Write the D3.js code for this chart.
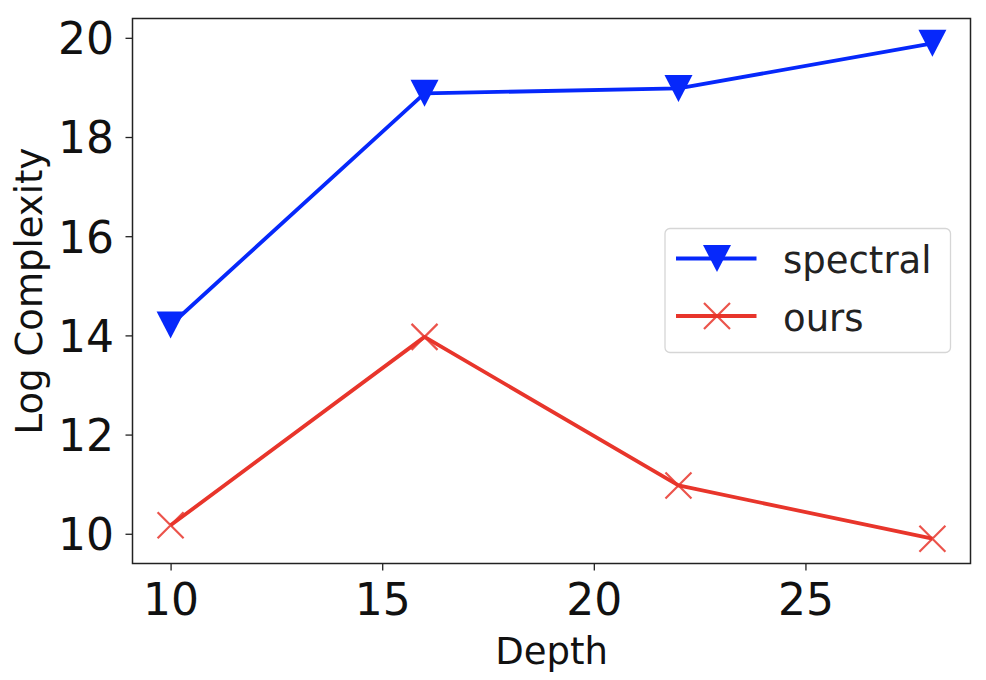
<!DOCTYPE html>
<html>
<head>
<meta charset="utf-8">
<script src="https://cdn.jsdelivr.net/npm/d3@7"></script>
<style>
  body { margin: 0; background: #fff; }
  svg { display: block; font-family: "DejaVu Sans", sans-serif; }
</style>
</head>
<body>
<svg id="chart" width="986" height="680"></svg>
<script>
// data
var depth = [10, 16, 22, 28]
var spectral = [14.21, 18.88, 18.98, 19.89]
var ours = [10.17, 13.97, 10.975, 9.9]
var xTicks = [10, 15, 20, 25]
var yTicks = [10, 12, 14, 16, 18, 20]
var seriesNames = ["spectral", "ours"]

var blue = "#0628fb"
var red = "#e8352b"

var margin = { left: 132.5, right: 15.5, top: 18.5, bottom: 116.5 }
var width = 986
var height = 680
var w = width - margin.left - margin.right
var h = height - margin.top - margin.bottom

var svg = d3.select("#chart")
var g = svg.append("g")
    .attr("transform", "translate(" + margin.left + "," + margin.top + ")")

// matplotlib style 5% margins
function pad(ext) {
    var r = ext[1] - ext[0]
    return [ext[0] - 0.05 * r, ext[1] + 0.05 * r]
}

var x = d3.scaleLinear()
    .domain(pad(d3.extent(depth)))
    .range([0, w])

var allY = spectral.concat(ours)
var y = d3.scaleLinear()
    .domain(pad(d3.extent(allY)))
    .range([h, 0])

var xAxis = g.append("g")
    .attr("transform", "translate(0," + h + ")")
    .call(d3.axisBottom(x).tickValues(xTicks).tickSize(7).tickFormat(d3.format("d")))
xAxis.select(".domain").remove()
xAxis.selectAll("line").attr("stroke", "#222").attr("stroke-width", 1.3)
xAxis.selectAll("text")
    .attr("dy", null)
    .attr("y", 51.5)
    .attr("fill", "#111")
    .style("font-size", "44px")
    .style("font-family", "DejaVu Sans")

var yAxis = g.append("g")
    .call(d3.axisLeft(y).tickValues(yTicks).tickSize(7).tickFormat(d3.format("d")))
yAxis.select(".domain").remove()
yAxis.selectAll("line").attr("stroke", "#222").attr("stroke-width", 1.3)
yAxis.selectAll("text")
    .attr("x", -18.5)
    .attr("dy", "0.36em")
    .attr("fill", "#111")
    .style("font-size", "44px")
    .style("font-family", "DejaVu Sans")

// frame
g.append("rect")
    .attr("width", w)
    .attr("height", h)
    .attr("fill", "none")
    .attr("stroke", "#222")
    .attr("stroke-width", 1.5)

var line = d3.line()
    .x(function(d) { return x(d[0]) })
    .y(function(d) { return y(d[1]) })

var triDown = "M-14,-13.5L14,-13.5L0,13.5Z"
var cross = "M-13,-13L13,13M-13,13L13,-13"

function drawSeries(vals, color, marker) {
    var pts = depth.map(function(d, i) { return [d, vals[i]] })
    g.append("path")
        .datum(pts)
        .attr("d", line)
        .attr("fill", "none")
        .attr("stroke", color)
        .attr("stroke-width", 3.8)
        .attr("stroke-linejoin", "round")
    g.selectAll(null)
        .data(pts)
        .enter()
        .append("path")
        .attr("transform", function(d) {
            return "translate(" + x(d[0]) + "," + y(d[1]) + ")"
        })
        .attr("d", marker)
        .attr("fill", marker === triDown ? color : "none")
        .attr("stroke", color)
        .attr("stroke-width", marker === triDown ? 0 : 2.2)
        .attr("opacity", marker === triDown ? 1 : 0.85)
}

drawSeries(spectral, blue, triDown)
drawSeries(ours, red, cross)

// legend
var legend = svg.append("g").attr("transform", "translate(665,228.5)")
legend.append("rect")
    .attr("width", 285.5)
    .attr("height", 124)
    .attr("rx", 5)
    .attr("fill", "#fff")
    .attr("fill-opacity", 0.8)
    .attr("stroke", "#d6d6d6")
    .attr("stroke-width", 1.3)

var legendItems = [
    { name: seriesNames[0], color: blue, marker: triDown, dy: 30 },
    { name: seriesNames[1], color: red, marker: cross, dy: 87.5 }
]
legendItems.forEach(function(it) {
    legend.append("line")
        .attr("x1", 11).attr("x2", 91.5)
        .attr("y1", it.dy).attr("y2", it.dy)
        .attr("stroke", it.color)
        .attr("stroke-width", 3.8)
    legend.append("path")
        .attr("transform", "translate(52," + it.dy + ")")
        .attr("d", it.marker)
        .attr("fill", it.marker === triDown ? it.color : "none")
        .attr("stroke", it.color)
        .attr("stroke-width", it.marker === triDown ? 0 : 2.2)
        .attr("opacity", it.marker === triDown ? 1 : 0.85)
    legend.append("text")
        .attr("x", 118)
        .attr("y", it.dy + 14.5)
        .attr("fill", "#222")
        .style("font-size", "37px")
        .text(it.name)
})

// axis labels
svg.append("text")
    .attr("x", margin.left + w / 2)
    .attr("y", 663.5)
    .attr("text-anchor", "middle")
    .attr("fill", "#111")
    .style("font-size", "37px")
    .text("Depth")

svg.append("text")
    .attr("transform", "translate(41.5," + (margin.top + h / 2) + ") rotate(-90)")
    .attr("text-anchor", "middle")
    .attr("fill", "#111")
    .style("font-size", "37px")
    .text("Log Complexity")
</script>
</body>
</html>
